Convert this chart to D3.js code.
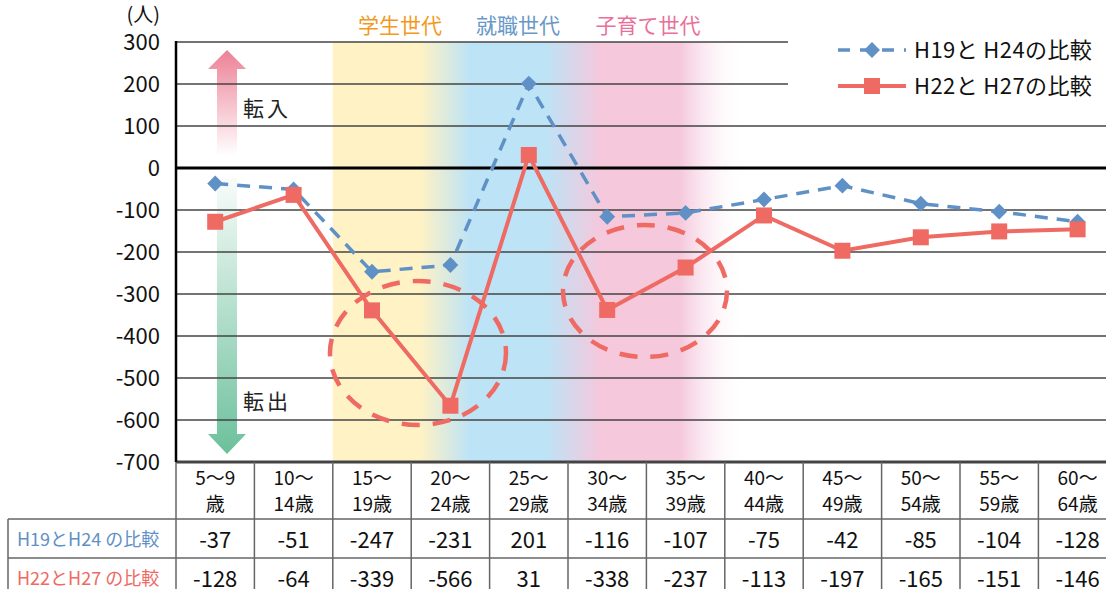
<!DOCTYPE html>
<html>
<head>
<meta charset="utf-8">
<script src="https://cdn.jsdelivr.net/npm/d3@7"></script>
<style>
  body { margin: 0; background: #fff; }
  svg text { font-family: "Noto Sans CJK JP", "Noto Sans", sans-serif; }
</style>
</head>
<body>
<div id="vis"></div>
<script>
const ageLine1 = ["5〜9", "10〜", "15〜", "20〜", "25〜", "30〜", "35〜", "40〜", "45〜", "50〜", "55〜", "60〜"];
const ageLine2 = ["歳", "14歳", "19歳", "24歳", "29歳", "34歳", "39歳", "44歳", "49歳", "54歳", "59歳", "64歳"];
const h19h24 = [-37, -51, -247, -231, 201, -116, -107, -75, -42, -85, -104, -128];
const h22h27 = [-128, -64, -339, -566, 31, -338, -237, -113, -197, -165, -151, -146];
const seriesNames = ["H19と H24の比較", "H22と H27の比較"];
const rowLabels = ["H19とH24 の比較", "H22とH27 の比較"];
const yTicks = [300, 200, 100, 0, -100, -200, -300, -400, -500, -600, -700];
const generations = ["学生世代", "就職世代", "子育て世代"];

const W = 1106, H = 589;
const plotLeft = 176, plotTop = 42, plotBottom = 462;
const blue = "#5f90c6", red = "#ee6a63";

const svg = d3.select("#vis").append("svg")
  .attr("width", W).attr("height", H);

const x = d3.scaleBand()
  .domain(d3.range(ageLine1.length))
  .range([plotLeft, plotLeft + 12 * 78.4]);

const y = d3.scaleLinear().domain([-700, 300]).range([plotBottom, plotTop]);

const defs = svg.append("defs");

// background band gradient
const bandX0 = x(2), bandX1 = 745;
const grad = defs.append("linearGradient").attr("id", "band")
  .attr("gradientUnits", "userSpaceOnUse")
  .attr("x1", bandX0).attr("x2", bandX1).attr("y1", 0).attr("y2", 0);
[[333, "#fff2c4", 1], [420, "#fff2c4", 1], [470, "#bde3f6", 1], [545, "#bde3f6", 1],
 [600, "#f5c8dc", 1], [680, "#f5c8dc", 1], [745, "#ffffff", 0]].forEach(s => {
  grad.append("stop")
    .attr("offset", Math.max(0, (s[0] - bandX0) / (bandX1 - bandX0)))
    .attr("stop-color", s[1]).attr("stop-opacity", s[2]);
});

svg.append("rect")
  .attr("x", bandX0).attr("y", plotTop)
  .attr("width", bandX1 - bandX0).attr("height", plotBottom - plotTop)
  .attr("fill", "url(#band)");

// arrows
const gUp = defs.append("linearGradient").attr("id", "gUp")
  .attr("x1", 0).attr("x2", 0).attr("y1", 0).attr("y2", 1);
gUp.append("stop").attr("offset", 0).attr("stop-color", "#ec8196");
gUp.append("stop").attr("offset", 1).attr("stop-color", "#ec8196").attr("stop-opacity", 0);

const gDown = defs.append("linearGradient").attr("id", "gDown")
  .attr("x1", 0).attr("x2", 0).attr("y1", 0).attr("y2", 1);
gDown.append("stop").attr("offset", 0).attr("stop-color", "#6cc09c").attr("stop-opacity", 0.05);
gDown.append("stop").attr("offset", 1).attr("stop-color", "#6cc09c");

svg.append("path")
  .attr("d", "M227,50 L246,69 L237,69 L237,156 L217,156 L217,69 L208,69 Z")
  .attr("fill", "url(#gUp)");
svg.append("path")
  .attr("d", "M217,178 L237,178 L237,434 L246,434 L227,454 L208,434 L217,434 Z")
  .attr("fill", "url(#gDown)");

svg.append("text").attr("x", 243).attr("y", 116).attr("font-size", 21)
  .attr("letter-spacing", 3).attr("fill", "#222").text("転入");
svg.append("text").attr("x", 243).attr("y", 409).attr("font-size", 21)
  .attr("letter-spacing", 3).attr("fill", "#222").text("転出");

// gridlines
svg.append("g").selectAll("line")
  .data(yTicks)
  .enter().append("line")
  .attr("x1", plotLeft).attr("x2", W)
  .attr("y1", d => y(d)).attr("y2", d => y(d))
  .attr("stroke", d => d === 0 ? "#000" : "#444")
  .attr("stroke-width", d => (d === 0 || d === -700) ? 3 : 1.5);

// legend background
svg.append("rect").attr("x", 788).attr("y", 30)
  .attr("width", W - 788).attr("height", 72).attr("fill", "#fff");

// left axis line
svg.append("line").attr("x1", plotLeft).attr("x2", plotLeft)
  .attr("y1", plotTop - 1).attr("y2", plotBottom)
  .attr("stroke", "#000").attr("stroke-width", 2.5);

// y tick labels
svg.append("g").selectAll("text")
  .data(yTicks)
  .enter().append("text")
  .attr("x", 160).attr("y", d => y(d) + 8)
  .attr("text-anchor", "end").attr("font-size", 22).attr("fill", "#111")
  .text(d => d);

svg.append("text").attr("x", 160).attr("y", 22).attr("text-anchor", "end")
  .attr("font-size", 20).attr("fill", "#111").text("(人)");

// generation labels
const genX = [400, 518, 648];
const genColor = ["#f39a1e", "#6a99c8", "#e9709a"];
generations.forEach((g, i) => {
  svg.append("text").attr("x", genX[i]).attr("y", 33)
    .attr("text-anchor", "middle").attr("font-size", 21)
    .attr("fill", genColor[i]).text(g);
});

// dashed ellipses
svg.append("ellipse").attr("cx", 418).attr("cy", 353).attr("rx", 88).attr("ry", 72)
  .attr("fill", "none").attr("stroke", red).attr("stroke-width", 4.5)
  .attr("stroke-dasharray", "18,13");
svg.append("ellipse").attr("cx", 645).attr("cy", 291).attr("rx", 82).attr("ry", 66)
  .attr("fill", "none").attr("stroke", red).attr("stroke-width", 4.5)
  .attr("stroke-dasharray", "18,13");

// lines
const cx = i => x(i) + x.bandwidth() / 2;
const line = d3.line().x((d, i) => cx(i)).y(d => y(d));

svg.append("path").datum(h19h24)
  .attr("d", line).attr("fill", "none")
  .attr("stroke", blue).attr("stroke-width", 3.5)
  .attr("stroke-dasharray", "13,9");
svg.append("g").selectAll("path")
  .data(h19h24)
  .enter().append("path")
  .attr("transform", (d, i) => `translate(${cx(i)},${y(d)})`)
  .attr("d", d3.symbol().type(d3.symbolDiamond2).size(160))
  .attr("fill", blue);

svg.append("path").datum(h22h27)
  .attr("d", line).attr("fill", "none")
  .attr("stroke", red).attr("stroke-width", 4);
svg.append("g").selectAll("rect")
  .data(h22h27)
  .enter().append("rect")
  .attr("x", (d, i) => cx(i) - 8).attr("y", d => y(d) - 8)
  .attr("width", 16).attr("height", 16)
  .attr("fill", red);

// legend
const lg = svg.append("g");
lg.append("line").attr("x1", 838).attr("x2", 906).attr("y1", 50).attr("y2", 50)
  .attr("stroke", blue).attr("stroke-width", 3.5).attr("stroke-dasharray", "12,10");
lg.append("path").attr("transform", "translate(872,50)")
  .attr("d", d3.symbol().type(d3.symbolDiamond2).size(160)).attr("fill", blue);
lg.append("line").attr("x1", 838).attr("x2", 906).attr("y1", 86).attr("y2", 86)
  .attr("stroke", red).attr("stroke-width", 4);
lg.append("rect").attr("x", 864).attr("y", 78).attr("width", 16).attr("height", 16).attr("fill", red);
seriesNames.forEach((s, i) => {
  lg.append("text").attr("x", 914).attr("y", 58 + i * 36)
    .attr("font-size", 22).attr("letter-spacing", 0.4).attr("fill", "#111").text(s);
});

// table
const tLine = "#666";
const tbl = svg.append("g");
// column separators
d3.range(1, ageLine1.length + 1).forEach(i => {
  const xx = i < ageLine1.length ? x(i) : x(i - 1) + x.bandwidth();
  tbl.append("line").attr("x1", xx).attr("x2", xx)
    .attr("y1", plotBottom).attr("y2", H)
    .attr("stroke", tLine).attr("stroke-width", 1.5);
});
tbl.append("line").attr("x1", plotLeft).attr("x2", plotLeft).attr("y1", plotBottom).attr("y2", H)
  .attr("stroke", tLine).attr("stroke-width", 1.5);
tbl.append("line").attr("x1", 8).attr("x2", 8).attr("y1", 519).attr("y2", H)
  .attr("stroke", tLine).attr("stroke-width", 1.5);
[519, 558].forEach(yy => {
  tbl.append("line").attr("x1", 8).attr("x2", W).attr("y1", yy).attr("y2", yy)
    .attr("stroke", tLine).attr("stroke-width", 1.5);
});

tbl.selectAll(".h1").data(ageLine1).enter().append("text")
  .attr("x", (d, i) => cx(i)).attr("y", 485).attr("text-anchor", "middle")
  .attr("font-size", 19).attr("fill", "#111").text(d => d);
tbl.selectAll(".h2").data(ageLine2).enter().append("text")
  .attr("x", (d, i) => cx(i)).attr("y", 511).attr("text-anchor", "middle")
  .attr("font-size", 19).attr("fill", "#111").text(d => d);

[h19h24, h22h27].forEach((vals, r) => {
  tbl.selectAll(".v" + r).data(vals).enter().append("text")
    .attr("x", (d, i) => cx(i)).attr("y", 548 + r * 39).attr("text-anchor", "middle")
    .attr("font-size", 22).attr("fill", "#111").text(d => d);
  tbl.append("text").attr("x", 17).attr("y", 546 + r * 39)
    .attr("font-size", 18).attr("fill", r === 0 ? blue : red).text(rowLabels[r]);
});
</script>
</body>
</html>
